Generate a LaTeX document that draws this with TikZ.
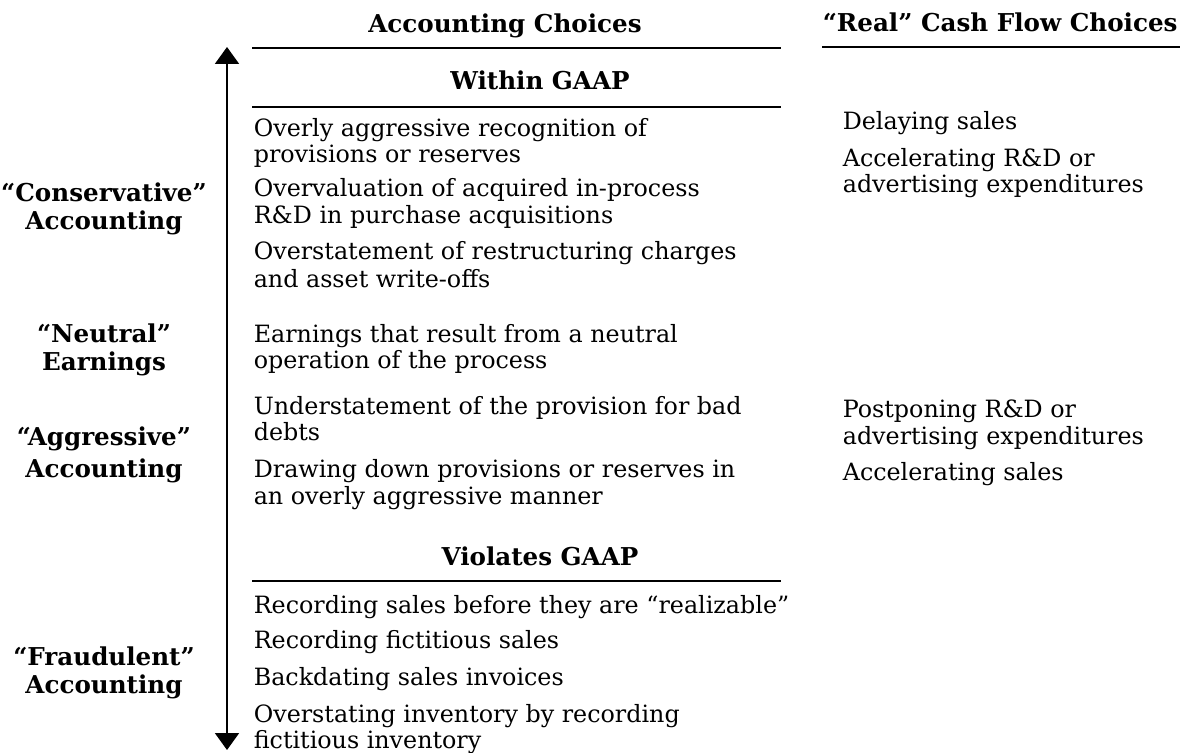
\documentclass[tikz,border=0pt]{standalone}
\usepackage{fontspec}
\setmainfont{DejaVu Serif}
\usetikzlibrary{arrows.meta}

\begin{document}
\begin{tikzpicture}[x=0.5pt, y=-0.5pt, thick,
  item/.style={anchor=base west, inner sep=0pt, font=\fontsize{11.9}{13}\selectfont},
  head/.style={anchor=base, inner sep=0pt, font=\fontsize{12.3}{14}\selectfont\bfseries},
  side/.style={anchor=base, inner sep=0pt, font=\fontsize{12.3}{14}\selectfont\bfseries},
  rule/.style={line width=1pt}]
  \useasboundingbox (0,0) rectangle (1186,753);
  % scale arrow
  \coordinate (top) at (227,47);
  \coordinate (bot) at (227,750);
  \draw[line width=1pt, {Triangle[width=12pt,length=8.5pt]}-{Triangle[width=12pt,length=8.5pt]}] (top) -- (bot);
  % headings
  \node[head] (acc) at (505,33) {Accounting Choices};
  \node[head, anchor=base west] (real) at (822,32) {“Real” Cash Flow Choices};
  \node[head] (within) at (540,90) {Within GAAP};
  \node[head] (viol) at (540,565) {Violates GAAP};
  \coordinate (r1a) at (252,48);  \coordinate (r1b) at (781,48);
  \coordinate (r2a) at (822,47);  \coordinate (r2b) at (1180,47);
  \coordinate (r3a) at (252,107); \coordinate (r3b) at (781,107);
  \coordinate (r4a) at (252,581); \coordinate (r4b) at (781,581);
  \draw[rule] (r1a) -- (r1b);
  \draw[rule] (r2a) -- (r2b);
  \draw[rule] (r3a) -- (r3b);
  \draw[rule] (r4a) -- (r4b);
  % left labels
  \foreach \y/\t in {202/{“Conservative”}, 230/{Accounting}, 342/{“Neutral”}, 370/{Earnings},
                     445/{“Aggressive”}, 477/{Accounting}, 665/{“Fraudulent”}, 693/{Accounting}}
    \node[side] (s-\y) at (104,\y) {\t};
  % accounting choices
  \foreach \y/\t in {137/{Overly aggressive recognition of}, 163/{provisions or reserves},
                     197/{Overvaluation of acquired in-process}, 224/{R\&D in purchase acquisitions},
                     260/{Overstatement of restructuring charges}, 287/{and asset write-offs},
                     342/{Earnings that result from a neutral}, 368/{operation of the process},
                     414/{Understatement of the provision for bad}, 440/{debts},
                     477/{Drawing down provisions or reserves in}, 504/{an overly aggressive manner},
                     613/{Recording sales before they are “realizable”}, 648/{Recording fictitious sales},
                     685/{Backdating sales invoices}, 722/{Overstating inventory by recording},
                     748/{fictitious inventory}}
    \node[item] (a-\y) at (253,\y) {\t};
  % real cash flow choices
  \foreach \y/\t in {130/{Delaying sales}, 167/{Accelerating R\&D or}, 193/{advertising expenditures},
                     417/{Postponing R\&D or}, 444/{advertising expenditures}, 480/{Accelerating sales}}
    \node[item] (c-\y) at (842,\y) {\t};
\end{tikzpicture}
\end{document}
